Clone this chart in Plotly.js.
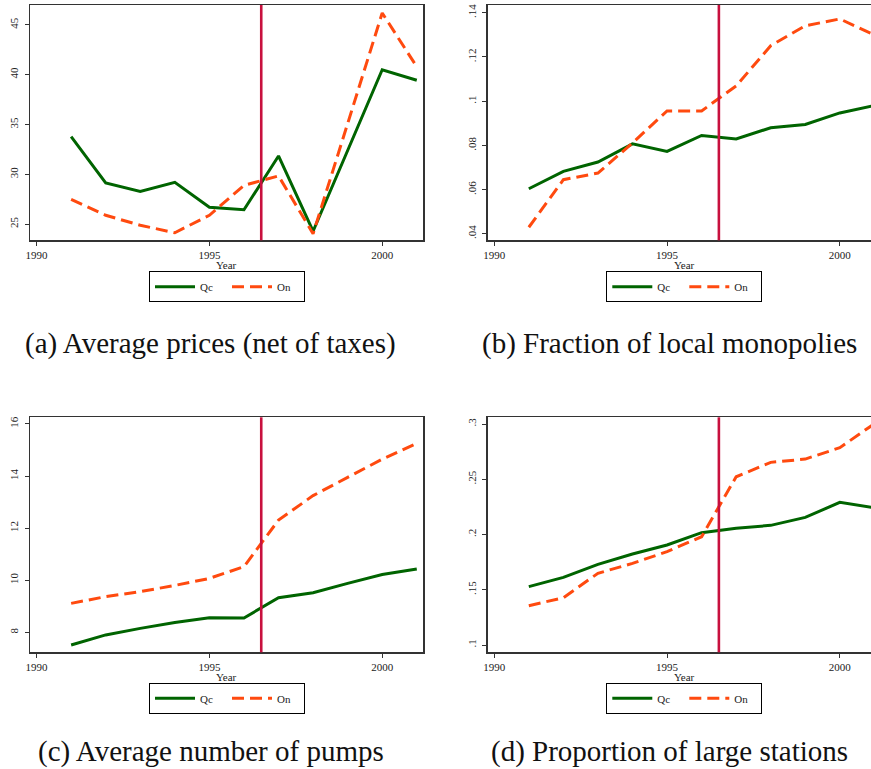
<!DOCTYPE html>
<html>
<head>
<meta charset="utf-8">
<script src="https://cdn.plot.ly/plotly-3.0.1.min.js"></script>
<style>
html, body { margin: 0; padding: 0; overflow: hidden; background: #fff; }
#chart { width: 885px; height: 769px; }
</style>
</head>
<body>
<div id="chart"></div>
<script>
// ---- Data ----
const years = [1991, 1992, 1993, 1994, 1995, 1996, 1997, 1998, 1999, 2000, 2001];
const treatmentYear = 1996.5;

const priceQc = [33.8, 29.15, 28.3, 29.2, 26.7, 26.45, 31.85, 24.3, 32.4, 40.5, 39.45];
const priceOn = [27.5, 25.9, 24.9, 24.15, 25.9, 28.9, 29.85, 24.05, 35.1, 46.2, 40.8];

const monoQc = [0.0604, 0.0683, 0.0725, 0.0807, 0.0773, 0.0845, 0.0829, 0.0880, 0.0895, 0.0947, 0.0980];
const monoOn = [0.0430, 0.0645, 0.0675, 0.0811, 0.0956, 0.0956, 0.1069, 0.1251, 0.1341, 0.1372, 0.1300];

const pumpsQc = [7.51, 7.90, 8.15, 8.38, 8.56, 8.55, 9.33, 9.52, 9.88, 10.22, 10.43];
const pumpsOn = [9.11, 9.37, 9.56, 9.80, 10.07, 10.52, 12.31, 13.25, 13.95, 14.65, 15.26];

const largeQc = [0.1528, 0.1612, 0.1730, 0.1824, 0.1905, 0.2017, 0.2056, 0.2083, 0.2155, 0.2291, 0.2243];
const largeOn = [0.1356, 0.1428, 0.1649, 0.1739, 0.1845, 0.1980, 0.2523, 0.2653, 0.2683, 0.2786, 0.3003];

const xTicks = [1990, 1995, 2000];
const priceTicks = [25, 30, 35, 40, 45];
const priceTickText = ['25', '30', '35', '40', '45'];
const monoTicks = [0.04, 0.06, 0.08, 0.10, 0.12, 0.14];
const monoTickText = ['.04', '.06', '.08', '.1', '.12', '.14'];
const pumpsTicks = [8, 10, 12, 14, 16];
const pumpsTickText = ['8', '10', '12', '14', '16'];
const largeTicks = [0.1, 0.15, 0.2, 0.25, 0.3];
const largeTickText = ['.1', '.15', '.2', '.25', '.3'];

const seriesNames = ['Qc', 'On'];
const xTitle = 'Year';
const captions = ['(a) Average prices (net of taxes)', '(b) Fraction of local monopolies',
                  '(c) Average number of pumps', '(d) Proportion of large stations'];

// ---- Styling ----
const W = 885, H = 769;
const serif = '"Liberation Serif", "Times New Roman", serif';
const green = '#006400';
const orange = '#FF4A0F';
const vcolor = '#C8103E';

const panels = [
  {qc: priceQc, on: priceOn, ticks: priceTicks, text: priceTickText, range: [23.39, 47.0]},
  {qc: monoQc, on: monoOn, ticks: monoTicks, text: monoTickText, range: [0.0371, 0.1435]},
  {qc: pumpsQc, on: pumpsOn, ticks: pumpsTicks, text: pumpsTickText, range: [7.232, 16.257]},
  {qc: largeQc, on: largeOn, ticks: largeTicks, text: largeTickText, range: [0.0934, 0.3061]}
];

// pixel geometry of plot areas
const colX = [[30, 423], [487.7, 880.6]];
const rowY = [[5, 240.3], [417.3, 652.3]];
const legendCX = [227, 684.3];
const legendCY = [286.7, 698.3];
const captionCX = [210.5, 669];
const captionCY = [343, 751];
const yearCY = [265, 677];

const traces = [];
const layout = {
  width: W, height: H,
  margin: {l: 0, r: 0, t: 0, b: 0},
  paper_bgcolor: '#fff', plot_bgcolor: '#fff',
  font: {family: serif, size: 11, color: '#222'},
  showlegend: true,
  shapes: [], annotations: []
};

panels.forEach((p, i) => {
  const col = i % 2, row = Math.floor(i / 2);
  const n = i + 1;
  const xa = n === 1 ? 'x' : 'x' + n;
  const ya = n === 1 ? 'y' : 'y' + n;
  const lg = n === 1 ? 'legend' : 'legend' + n;
  traces.push({
    x: years, y: p.qc, name: seriesNames[0], type: 'scatter', mode: 'lines',
    xaxis: xa, yaxis: ya, legend: lg,
    line: {color: green, width: 3}
  });
  traces.push({
    x: years, y: p.on, name: seriesNames[1], type: 'scatter', mode: 'lines',
    xaxis: xa, yaxis: ya, legend: lg,
    line: {color: orange, width: 3, dash: '12px,6px'}
  });
  const axCommon = {
    showline: true, mirror: true, linecolor: '#333', linewidth: 1.5,
    ticks: 'outside', ticklen: 4, tickwidth: 1, tickcolor: '#333',
    showgrid: false, zeroline: false,
    tickfont: {family: serif, size: 11, color: '#222'}
  };
  layout[n === 1 ? 'xaxis' : 'xaxis' + n] = Object.assign({}, axCommon, {
    domain: [colX[col][0] / W, colX[col][1] / W],
    anchor: ya, range: [1989.81, 2001.18],
    tickvals: xTicks, ticktext: xTicks.map(String)
  });
  layout[n === 1 ? 'yaxis' : 'yaxis' + n] = Object.assign({}, axCommon, {
    domain: [1 - rowY[row][1] / H, 1 - rowY[row][0] / H],
    anchor: xa, range: p.range,
    tickvals: p.ticks, ticktext: p.text, tickangle: -90,
    ticklabelstandoff: 2
  });
  layout[lg] = {
    x: legendCX[col] / W, y: 1 - legendCY[row] / H, xanchor: 'center', yanchor: 'middle',
    orientation: 'h', bordercolor: '#000', borderwidth: 1, bgcolor: '#fff',
    font: {family: serif, size: 11, color: '#222'},
    entrywidth: 22, entrywidthmode: 'pixels', itemwidth: 40
  };
  layout.shapes.push({
    type: 'line', xref: xa, yref: ya + ' domain',
    x0: treatmentYear, x1: treatmentYear, y0: 0, y1: 1,
    line: {color: vcolor, width: 2.6}
  });
  layout.annotations.push({
    text: xTitle, xref: 'paper', yref: 'paper',
    x: (colX[col][0] + colX[col][0] + (colX[0][1] - colX[0][0])) / 2 / W,
    y: 1 - yearCY[row] / H,
    xanchor: 'center', yanchor: 'middle', showarrow: false,
    font: {family: serif, size: 11, color: '#222'}
  });
  layout.annotations.push({
    text: captions[i], xref: 'paper', yref: 'paper',
    x: captionCX[col] / W, y: 1 - captionCY[row] / H,
    xanchor: 'center', yanchor: 'middle', showarrow: false,
    font: {family: serif, size: 29, color: '#111'}
  });
});

Plotly.newPlot('chart', traces, layout, {displayModeBar: false, staticPlot: true});
</script>
</body>
</html>
